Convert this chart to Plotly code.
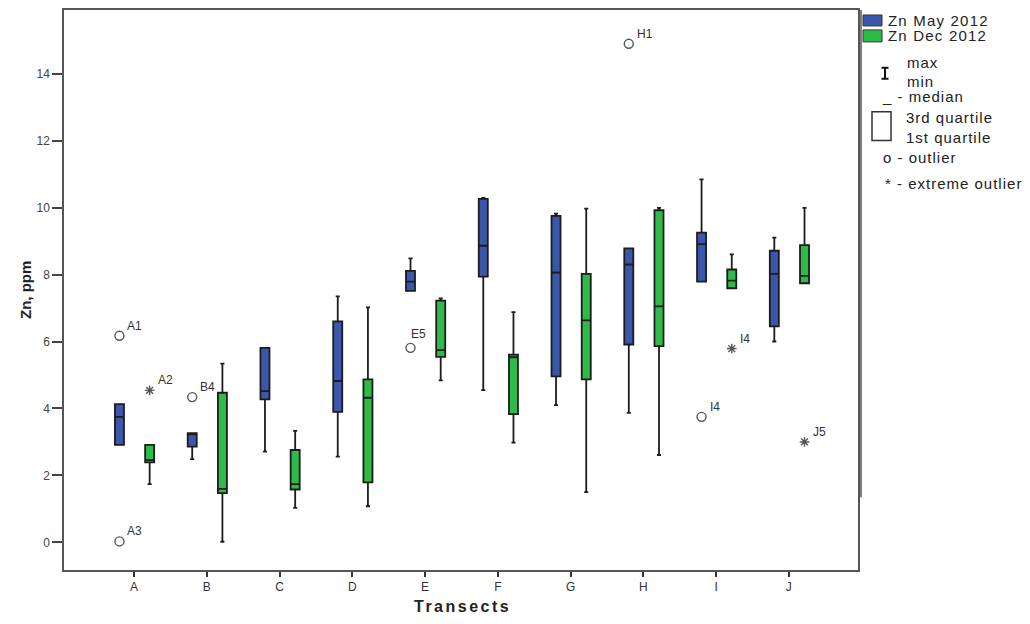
import plotly.graph_objects as go

# ---------------- data ----------------
categories = ["A", "B", "C", "D", "E", "F", "G", "H", "I", "J"]

may_q1 = [2.91, 2.86, 4.27, 3.90, 7.51, 7.94, 4.96, 5.91, 7.79, 6.45]
may_median = [3.75, 3.23, 4.52, 4.82, 7.79, 8.86, 8.06, 8.30, 8.91, 8.02]
may_q3 = [4.13, 3.26, 5.81, 6.60, 8.11, 10.26, 9.75, 8.78, 9.25, 8.71]
may_min = [2.91, 2.49, 2.71, 2.56, 7.51, 4.55, 4.10, 3.87, 7.79, 6.00]
may_max = [4.13, 3.26, 5.81, 7.35, 8.48, 10.29, 9.82, 8.78, 10.84, 9.10]

dec_q1 = [2.39, 1.47, 1.58, 1.79, 5.54, 3.83, 4.87, 5.86, 7.59, 7.74]
dec_median = [2.46, 1.60, 1.74, 4.32, 5.74, 5.53, 6.63, 7.05, 7.82, 7.96]
dec_q3 = [2.91, 4.47, 2.76, 4.87, 7.22, 5.61, 8.02, 9.92, 8.15, 8.88]
dec_min = [1.74, 0.02, 1.03, 1.08, 4.84, 2.98, 1.50, 2.61, 7.59, 7.74]
dec_max = [2.91, 5.34, 3.33, 7.02, 7.29, 6.88, 9.97, 9.99, 8.60, 9.99]

out_category = ["A", "A", "A", "B", "E", "H", "I", "I", "J"]
out_series = ["May", "Dec", "May", "May", "May", "May", "May", "Dec", "Dec"]
out_value = [6.17, 4.54, 0.03, 4.34, 5.81, 14.89, 3.75, 5.79, 3.00]
out_label = ["A1", "A2", "A3", "B4", "E5", "H1", "I4", "I4", "J5"]
out_kind = ["o", "*", "o", "o", "o", "o", "o", "*", "*"]

series_names = ["Zn May 2012", "Zn Dec 2012"]
y_ticks = [0, 2, 4, 6, 8, 10, 12, 14]

# ---------------- style ----------------
BLUE = "#3b57ab"
GREEN = "#2fbb4a"
OFFSET = {"May": -0.2, "Dec": 0.215}
BOX_W = 0.124
FONT = "Liberation Sans, Arial, sans-serif"

W, H = 1030, 624
L, R, T, B = 64, 172, 8, 54
PW, PH = W - L - R, H - T - B


def px(x, y):
    """pixel -> paper coords"""
    return (x - L) / PW, (H - B - y) / PH


def spaced(txt, sp=1.2):
    return '<span style="letter-spacing:%spx">%s</span>' % (sp, txt)


fig = go.Figure()

idx = {c: i for i, c in enumerate(categories)}

for key, color, q1, med, q3, lo, hi in [
    ("May", BLUE, may_q1, may_median, may_q3, may_min, may_max),
    ("Dec", GREEN, dec_q1, dec_median, dec_q3, dec_min, dec_max),
]:
    fig.add_trace(go.Box(
        x=[i + OFFSET[key] for i in range(len(categories))],
        q1=q1, median=med, q3=q3, lowerfence=lo, upperfence=hi,
        width=BOX_W, whiskerwidth=0.45,
        fillcolor=color, line=dict(color="#1c1c1c", width=1.8),
        boxpoints=False, showlegend=False,
        name=series_names[0] if key == "May" else series_names[1],
    ))

# outliers
for kind, symbol, size in [("o", "circle-open", 9), ("*", "asterisk-open", 8)]:
    xs, ys = [], []
    for c, s, v, k in zip(out_category, out_series, out_value, out_kind):
        if k == kind:
            xs.append(idx[c] + OFFSET[s])
            ys.append(v)
    fig.add_trace(go.Scatter(
        x=xs, y=ys, mode="markers", showlegend=False,
        marker=dict(symbol=symbol, size=size, color="#555555",
                    line=dict(color="#555555", width=1.4)),
    ))

annotations = []
for c, s, v, lab in zip(out_category, out_series, out_value, out_label):
    annotations.append(dict(
        x=idx[c] + OFFSET[s], y=v, xref="x", yref="y", text=lab,
        showarrow=False, xanchor="left", yanchor="middle",
        xshift=(-2 if lab == "E5" else 6), yshift=(14 if lab == "E5" else 10),
        font=dict(family=FONT, size=12, color="#333333"),
    ))

# axis titles
tx, ty = px(462, 607)
annotations.append(dict(x=tx, y=ty, xref="paper", yref="paper", showarrow=False,
                        xanchor="center", yanchor="middle",
                        text="<b>" + spaced("Transects", 2.5) + "</b>",
                        font=dict(family=FONT, size=16, color="#222222")))
tx, ty = px(25, 289)
annotations.append(dict(x=tx, y=ty, xref="paper", yref="paper", showarrow=False,
                        xanchor="center", yanchor="middle",
                        text="<b>Zn, ppm</b>", textangle=-90,
                        font=dict(family=FONT, size=15, color="#222222")))

# custom legend
shapes = []
x0, y0 = px(861, 8)
x1, y1 = px(861, 497)
shapes.append(dict(type="line", xref="paper", yref="paper", x0=x0, y0=y0, x1=x1, y1=y1,
                   line=dict(color="#555555", width=1.5)))
for (top, bot), color, name in [((13, 24), BLUE, series_names[0]),
                                ((28, 40), GREEN, series_names[1])]:
    a0, b0 = px(863, bot)
    a1, b1 = px(882, top)
    shapes.append(dict(type="rect", xref="paper", yref="paper", x0=a0, y0=b0, x1=a1, y1=b1,
                       fillcolor=color, line=dict(color="#333333", width=1)))
    ax_, ay_ = px(886, (top + bot) / 2)
    annotations.append(dict(x=ax_, y=ay_, xref="paper", yref="paper", showarrow=False,
                            xanchor="left", yanchor="middle", text=spaced(name, 1.2),
                            font=dict(family=FONT, size=15, color="#222222")))

# I glyph (max/min)
for (xa, ya, xb, yb) in [(885, 66, 885, 77), (881.5, 66, 888.5, 66), (881.5, 77, 888.5, 77)]:
    a0, b0 = px(xa, ya)
    a1, b1 = px(xb, yb)
    shapes.append(dict(type="line", xref="paper", yref="paper", x0=a0, y0=b0, x1=a1, y1=b1,
                       line=dict(color="#111111", width=2)))
# quartile rectangle
a0, b0 = px(872, 139)
a1, b1 = px(891, 110)
shapes.append(dict(type="rect", xref="paper", yref="paper", x0=a0, y0=b0, x1=a1, y1=b1,
                   line=dict(color="#333333", width=1.5)))

legend_texts = [
    (905, 61, "max"), (905, 80, "min"), (880, 95, "_ - median"),
    (904, 116, "3rd quartile"), (904, 136, "1st quartile"),
    (881, 156, "o - outlier"), (883, 182, "* - extreme outlier"),
]
for lx, ly, txt in legend_texts:
    a, b = px(lx, ly)
    annotations.append(dict(x=a, y=b, xref="paper", yref="paper", showarrow=False,
                            xanchor="left", yanchor="middle", text=spaced(txt, 1.0),
                            font=dict(family=FONT, size=15, color="#222222")))

fig.update_layout(
    width=W, height=H,
    margin=dict(l=L, r=R, t=T, b=B, pad=0),
    paper_bgcolor="white", plot_bgcolor="white",
    showlegend=False,
    annotations=annotations, shapes=shapes,
    xaxis=dict(
        range=[-0.962, 9.95], tickvals=list(range(len(categories))), ticktext=categories,
        showgrid=False, zeroline=False, showline=True, linecolor="#555555", linewidth=1.5,
        mirror=True, ticks="outside", ticklen=5, tickwidth=2, tickcolor="#333333",
        tickfont=dict(family=FONT, size=12, color="#333333"),
    ),
    yaxis=dict(
        range=[-0.824, 15.9], tickvals=y_ticks,
        showgrid=False, zeroline=False, showline=True, linecolor="#555555", linewidth=1.5,
        mirror=True, ticks="outside", ticklen=10, tickwidth=1.5, tickcolor="#444444",
        tickfont=dict(family=FONT, size=12, color="#444444"),
    ),
)

fig.write_html("out.html")
